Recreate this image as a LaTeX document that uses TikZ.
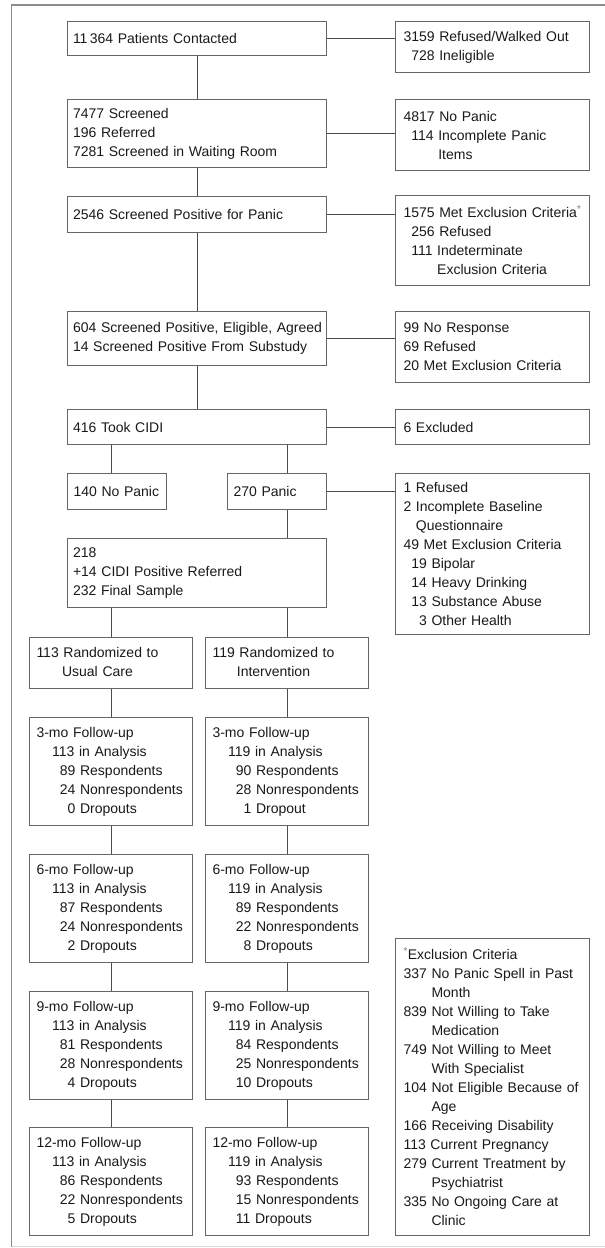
\documentclass[tikz,border=0pt]{standalone}
\usepackage{fontspec}
\setmainfont{Liberation Sans}
\usepackage{tikz}

\begin{document}
\begin{tikzpicture}[x=1pt, y=-1pt,
    mainbox/.style={draw=black!60, line width=1pt, anchor=north west, align=left, inner xsep=5.5pt, inner ysep=2pt, text width=248pt, font=\fontsize{14}{19}\selectfont, text=black!90},
    sidebox/.style={mainbox, inner xsep=8pt, text width=178pt},
    armbox/.style={mainbox, inner xsep=7pt, text width=149pt},
    smallbox/.style={mainbox, inner xsep=6pt, text width=87pt},
    link/.style={draw=black!70, line width=1pt},
    frame/.style={draw=black!45, line width=1.5pt}]
    \useasboundingbox (0,0) rectangle (605,1248);
    % Outer frame
    \draw[frame] (11.5,1246.5) -- (11.5,5) -- (605,5);
    \draw[frame, draw=black!15] (11.5,1246.5) -- (605,1246.5);

    % Screening column
    \node[mainbox, minimum height=34pt] (contacted) at (67,21) {11\,364 Patients Contacted};
    \node[mainbox, minimum height=68pt] (screened) at (67,99) {7477 Screened\\196 Referred\\7281 Screened in Waiting Room};
    \node[mainbox, minimum height=36pt] (positive) at (67,196) {2546 Screened Positive for Panic};
    \node[mainbox, minimum height=54pt] (agreed) at (67,311) {\mbox{604 Screened Positive, Eligible, Agreed}\\14 Screened Positive From Substudy};
    \node[mainbox, minimum height=35pt] (cidi) at (67,409) {416 Took CIDI};
    \node[smallbox, minimum height=36pt] (nopanic) at (67,473) {140 No Panic};
    \node[smallbox, minimum height=36pt] (panic) at (227,473) {270 Panic};
    \node[mainbox, minimum height=69pt] (sample) at (67,538) {218\\+14 CIDI Positive Referred\\232 Final Sample};

    % Losses on the right
    \node[sidebox, minimum height=51pt] (walkedout) at (395,21) {3159 Refused/Walked Out\\\phantom{0}728 Ineligible};
    \node[sidebox, minimum height=71pt] (incomplete) at (395,99) {4817 No Panic\\\phantom{0}114 Incomplete Panic\\\phantom{0114\ }Items};
    \node[sidebox, minimum height=90pt] (metexcl) at (395,195) {\mbox{1575 Met Exclusion Criteria\textsuperscript{\color{black!55}*}}\\\phantom{0}256 Refused\\\phantom{0}111 Indeterminate\\\phantom{0111\ }Exclusion Criteria};
    \node[sidebox, minimum height=71pt] (noresponse) at (395,311) {99 No Response\\69 Refused\\20 Met Exclusion Criteria};
    \node[sidebox, minimum height=35pt] (excluded) at (395,409) {6 Excluded};
    \node[sidebox, minimum height=161pt] (baseline) at (395,473) {1 Refused\\2 Incomplete Baseline\\\phantom{2\ }Questionnaire\\49 Met Exclusion Criteria\\\phantom{0}19 Bipolar\\\phantom{0}14 Heavy Drinking\\\phantom{0}13 Substance Abuse\\\phantom{00}3 Other Health};

    % Footnote box
    \node[sidebox, minimum height=297pt] (exclusion) at (395,938) {\textsuperscript{\color{black!55}*}Exclusion Criteria\\337 No Panic Spell in Past\\\phantom{000\ }Month\\839 Not Willing to Take\\\phantom{000\ }Medication\\749 Not Willing to Meet\\\phantom{000\ }With Specialist\\104 Not Eligible Because of\\\phantom{000\ }Age\\166 Receiving Disability\\113 Current Pregnancy\\279 Current Treatment by\\\phantom{000\ }Psychiatrist\\335 No Ongoing Care at\\\phantom{000\ }Clinic};

    % Usual care arm
    \node[armbox, minimum height=51pt] (usual) at (29,637) {\begin{tabular}{@{}c@{}}113 Randomized to\\Usual Care\end{tabular}};
    \node[armbox, minimum height=108pt] (uc3) at (29,717) {3-mo Follow-up\\\phantom{00}113 in Analysis\\\phantom{000}89 Respondents\\\phantom{000}24 Nonrespondents\\\phantom{0000}0 Dropouts};
    \node[armbox, minimum height=108pt] (uc6) at (29,854) {6-mo Follow-up\\\phantom{00}113 in Analysis\\\phantom{000}87 Respondents\\\phantom{000}24 Nonrespondents\\\phantom{0000}2 Dropouts};
    \node[armbox, minimum height=108pt] (uc9) at (29,991) {9-mo Follow-up\\\phantom{00}113 in Analysis\\\phantom{000}81 Respondents\\\phantom{000}28 Nonrespondents\\\phantom{0000}4 Dropouts};
    \node[armbox, minimum height=108pt] (uc12) at (29,1127) {12-mo Follow-up\\\phantom{00}113 in Analysis\\\phantom{000}86 Respondents\\\phantom{000}22 Nonrespondents\\\phantom{0000}5 Dropouts};

    % Intervention arm
    \node[armbox, minimum height=51pt] (interv) at (205,637) {\begin{tabular}{@{}c@{}}119 Randomized to\\Intervention\end{tabular}};
    \node[armbox, minimum height=108pt] (iv3) at (205,717) {3-mo Follow-up\\\phantom{00}119 in Analysis\\\phantom{000}90 Respondents\\\phantom{000}28 Nonrespondents\\\phantom{0000}1 Dropout};
    \node[armbox, minimum height=108pt] (iv6) at (205,854) {6-mo Follow-up\\\phantom{00}119 in Analysis\\\phantom{000}89 Respondents\\\phantom{000}22 Nonrespondents\\\phantom{0000}8 Dropouts};
    \node[armbox, minimum height=108pt] (iv9) at (205,991) {9-mo Follow-up\\\phantom{00}119 in Analysis\\\phantom{000}84 Respondents\\\phantom{000}25 Nonrespondents\\\phantom{000}10 Dropouts};
    \node[armbox, minimum height=108pt] (iv12) at (205,1127) {12-mo Follow-up\\\phantom{00}119 in Analysis\\\phantom{000}93 Respondents\\\phantom{000}15 Nonrespondents\\\phantom{000}11 Dropouts};

    % Connectors down the middle
    \draw[link] (contacted.south) -- (screened.north);
    \draw[link] (screened.south) -- (positive.north);
    \draw[link] (positive.south) -- (agreed.north);
    \draw[link] (agreed.south) -- (cidi.north);
    \draw[link] (cidi.south -| usual.north) -- (nopanic.north -| usual.north);
    \draw[link] (cidi.south -| interv.north) -- (panic.north -| interv.north);
    \draw[link] (panic.south -| interv.north) -- (sample.north -| interv.north);
    \draw[link] (sample.south -| usual.north) -- (usual.north);
    \draw[link] (sample.south -| interv.north) -- (interv.north);
    % Connectors to the right
    \draw[link] (contacted.east) -- (contacted.east -| walkedout.west);
    \draw[link] (screened.east) -- (screened.east -| incomplete.west);
    \draw[link] (positive.east) -- (positive.east -| metexcl.west);
    \draw[link] (agreed.east) -- (agreed.east -| noresponse.west);
    \draw[link] (cidi.east) -- (cidi.east -| excluded.west);
    \draw[link] (panic.east) -- (panic.east -| baseline.west);
    % Follow-up arms
    \draw[link] (usual.south) -- (uc3.north);
    \draw[link] (uc3.south) -- (uc6.north);
    \draw[link] (uc6.south) -- (uc9.north);
    \draw[link] (uc9.south) -- (uc12.north);
    \draw[link] (interv.south) -- (iv3.north);
    \draw[link] (iv3.south) -- (iv6.north);
    \draw[link] (iv6.south) -- (iv9.north);
    \draw[link] (iv9.south) -- (iv12.north);
\end{tikzpicture}
\end{document}
